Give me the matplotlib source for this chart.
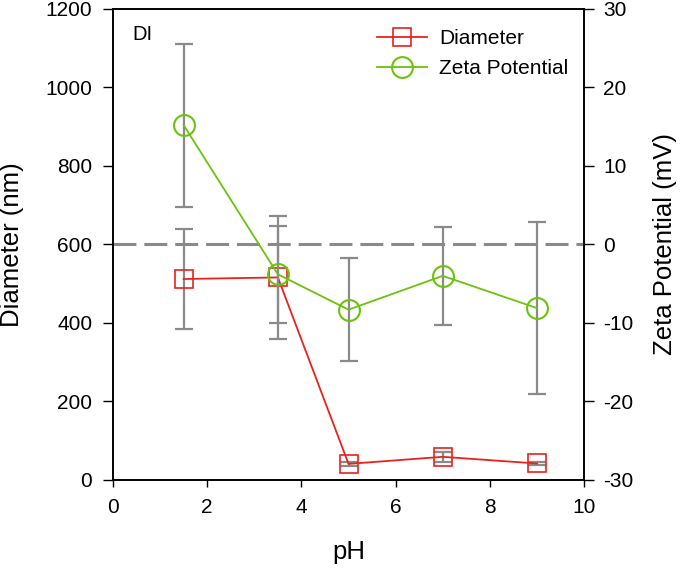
import matplotlib.pyplot as plt
import numpy as np

plt.rcParams['font.family'] = ['Liberation Sans', 'DejaVu Sans']
plt.rcParams['axes.unicode_minus'] = False

ph = [1.5, 3.5, 5, 7, 9]
diameter = [512, 516, 41, 59, 42]
diameter_err = [127, 156, 5, 13, 4]
zeta = [15.2, -3.8, -8.3, -4.0, -8.1]
zeta_err = [10.4, 6.2, 6.6, 6.2, 11.0]

red = "#e8231d"
green = "#6cc20c"
grey = "#8a8a8a"

fig = plt.figure(figsize=(6.85, 5.71), dpi=100)
ax = fig.add_axes([0.165, 0.1594, 0.6876, 0.8249])
ax2 = ax.twinx()

# diameter on the left axis
ax.errorbar(ph, diameter, yerr=diameter_err, fmt="none", ecolor=grey,
            elinewidth=1.6, capsize=6.5, capthick=1.6, zorder=2)
l1, = ax.plot(ph, diameter, color=red, lw=1.3, marker="s", ms=13,
              mfc="none", mec=red, mew=1.2, label="Diameter", zorder=3)

# zeta potential on the right axis
ax2.axhline(0, color=grey, lw=2.2, dashes=(7.5, 2.6), zorder=1)
ax2.errorbar(ph, zeta, yerr=zeta_err, fmt="none", ecolor=grey,
             elinewidth=1.6, capsize=6.5, capthick=1.6, zorder=2)
l2, = ax2.plot(ph, zeta, color=green, lw=1.3, marker="o", ms=15,
               mfc="none", mec=green, mew=1.5, label="Zeta Potential", zorder=3)

ax.set_xlim(0, 10)
ax.set_ylim(0, 1200)
ax2.set_ylim(-30, 30)
ax.set_xticks(np.arange(0, 11, 2))
ax.set_yticks(np.arange(0, 1201, 200))
ax2.set_yticks(np.arange(-30, 31, 10))

ax.tick_params(axis="y", direction="out", length=7, width=1, labelsize=15, pad=8)
ax.tick_params(axis="x", direction="out", length=5, width=1, labelsize=15, pad=8)
ax2.tick_params(axis="y", direction="out", length=7, width=1, labelsize=15, pad=7)
for a in (ax, ax2):
    for s in a.spines.values():
        s.set_linewidth(1.2)

ax.set_xlabel("pH", fontsize=18.5)
ax.set_ylabel("Diameter (nm)", fontsize=18.5)
ax2.set_ylabel("Zeta Potential (mV)", fontsize=18.5)
ax.xaxis.set_label_coords(0.5, -0.127)
ax.yaxis.set_label_coords(-0.189, 0.5)
ax2.yaxis.set_label_coords(1.1465, 0.5)

ax.text(0.042, 0.965, "DI", transform=ax.transAxes, fontsize=14.5, va="top")

ax2.legend([l1, l2], ["Diameter", "Zeta Potential"], loc="upper left",
           bbox_to_anchor=(0.5605, 0.957), frameon=False, fontsize=15,
           handlelength=2.4, handletextpad=0.58, labelspacing=0.54,
           borderpad=0, borderaxespad=0)

fig.savefig("out.png", dpi=100)
